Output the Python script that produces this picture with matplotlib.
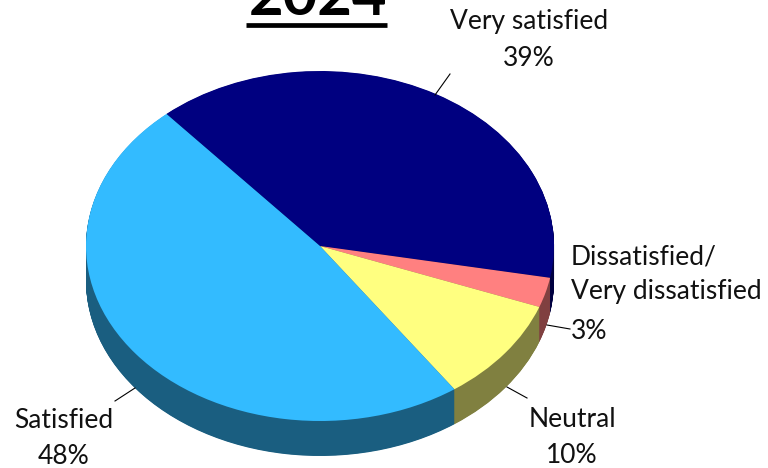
import matplotlib
matplotlib.use("Agg")
import matplotlib.pyplot as plt
from matplotlib.lines import Line2D

categories = ["Very satisfied", "Dissatisfied/\nVery dissatisfied", "Neutral", "Satisfied"]
values = [39.3, 2.75, 9.6, 48.35]
top_colors = ["#000080", "#FF8080", "#FFFF80", "#33BBFF"]
side_colors = ["#000040", "#804040", "#808040", "#1A5E80"]
value_labels = ["39%", "3%", "10%", "48%"]
title = "2024"

W, H = 768, 468
CX, CY, RX, RY, DEPTH = 320, 246, 234, 175, 35
START = 131

plt.rcParams["font.family"] = ["Lato", "DejaVu Sans"]
fig = plt.figure(figsize=(W / 100, H / 100), dpi=100, facecolor="white")
ax = fig.add_axes([0, 0, 1, 1])


def P(x, y):
    return (x / W, 1 - y / H)


for k in range(DEPTH * 2, 0, -1):
    ax.pie(values, colors=side_colors, startangle=START, counterclock=False,
           center=(0, -k / 2 / RY), radius=1, wedgeprops={"linewidth": 0})
ax.pie(values, colors=top_colors, startangle=START, counterclock=False,
       center=(0, 0), radius=1, wedgeprops={"linewidth": 0})
ax.set_aspect("auto")
ax.set_xlim((0 - CX) / RX, (W - CX) / RX)
ax.set_ylim((CY - H) / RY, CY / RY)
ax.axis("off")

label_fs = 19
text_black = "#111111"
dis_1, dis_2 = categories[1].split("\n")
for x, y, s, ha in [
    (529, 29, categories[0], "center"),
    (529, 66, value_labels[0], "center"),
    (571, 264, dis_1, "left"),
    (571, 299, dis_2, "left"),
    (571, 339, value_labels[1], "left"),
    (572, 427, categories[2], "center"),
    (572, 463, value_labels[2], "center"),
    (64, 428, categories[3], "center"),
    (64, 464, value_labels[3], "center"),
]:
    fig.text(*P(x, y), s, ha=ha, va="baseline", fontsize=label_fs, color=text_black)

for (x0, y0), (x1, y1) in [((450, 74), (435, 95)), ((547, 325), (570, 329)),
                           ((507, 387), (527, 398)), ((135, 388), (115, 401))]:
    a, b = P(x0, y0), P(x1, y1)
    fig.add_artist(Line2D([a[0], b[0]], [a[1], b[1]], color="black", lw=0.8))

fig.text(*P(318, 15), title, ha="center", va="baseline", fontsize=43, fontweight="bold", color="black")
a, b = P(246, 24.5), P(387, 24.5)
fig.add_artist(Line2D([a[0], b[0]], [a[1], b[1]], color="black", lw=3.4, solid_capstyle="butt"))

fig.savefig("out.png", dpi=100)
